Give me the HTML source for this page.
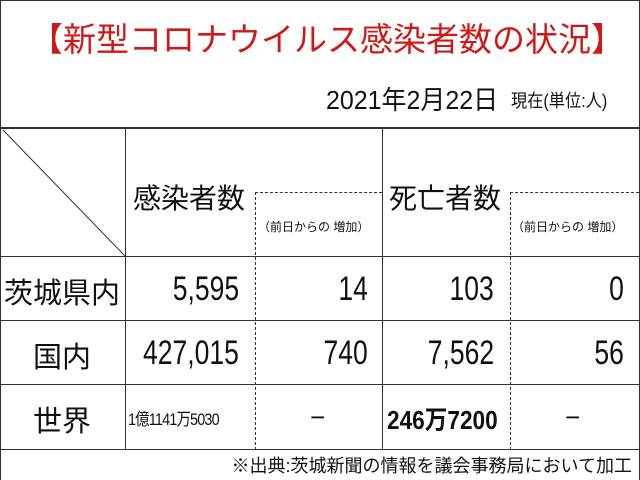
<!DOCTYPE html><html><head><meta charset="utf-8"><style>
body{margin:0;width:640px;height:480px;background:#fff;position:relative;overflow:hidden;font-family:"Liberation Sans","Noto Sans CJK JP",sans-serif;color:#111}
.a{position:absolute;white-space:nowrap}
.h{position:absolute;background:#333}
.dv{position:absolute;border-left:1px dashed #333;width:0}
.dh{position:absolute;border-top:1px dashed #333;height:0}
.n{font-size:34px;text-align:right;transform:scaleX(0.78);transform-origin:right center}
.l{font-size:29px;text-align:center;width:124px;left:0}
</style></head><body>
<div class="h" style="left:0;top:0;width:1px;height:480px"></div>
<div class="h" style="left:639px;top:0;width:1px;height:480px"></div>
<div class="h" style="left:0;top:0;width:640px;height:1px"></div>
<div class="a" style="left:30px;top:13px;font-size:33px;color:#d01818">【新型コロナウイルス感染者数の状況】</div>
<div class="a" style="left:326px;top:80px;font-size:26px;transform:scaleX(0.96);transform-origin:left center">2021年2月22日</div>
<div class="a" style="left:511px;top:87px;font-size:18px;transform:scaleX(0.9);transform-origin:left center">現在(単位:人)</div>
<div class="h" style="left:0;top:127px;width:640px;height:2px"></div>
<div class="h" style="left:0;top:256px;width:640px;height:1px"></div>
<div class="h" style="left:0;top:320px;width:640px;height:1px"></div>
<div class="h" style="left:0;top:384px;width:640px;height:1px"></div>
<div class="h" style="left:0;top:449px;width:640px;height:1px"></div>
<div class="h" style="left:125px;top:128px;width:1px;height:322px"></div>
<div class="h" style="left:382px;top:128px;width:1px;height:322px"></div>
<div class="dv" style="left:255px;top:192px;height:258px"></div>
<div class="dv" style="left:510px;top:192px;height:258px"></div>
<div class="dh" style="left:255px;top:192px;width:127px"></div>
<div class="dh" style="left:510px;top:192px;width:129px"></div>
<svg class="a" style="left:0;top:128px" width="126" height="129"><line x1="3" y1="2" x2="125" y2="128" stroke="#333" stroke-width="1"/></svg>
<div class="a" style="left:133px;top:177px;font-size:28px">感染者数</div>
<div class="a" style="left:389px;top:177px;font-size:28px">死亡者数</div>
<div class="a" style="left:258px;top:218px;font-size:12px">（前日からの 増加）</div>
<div class="a" style="left:512px;top:218px;font-size:12px">（前日からの 増加）</div>
<div class="a l" style="top:270px">茨城県内</div>
<div class="a l" style="top:334px">国内</div>
<div class="a l" style="top:398px">世界</div>
<div class="a n" style="right:401px;top:270px">5,595</div>
<div class="a n" style="right:272px;top:270px">14</div>
<div class="a n" style="right:146px;top:270px">103</div>
<div class="a n" style="right:16px;top:270px">0</div>
<div class="a n" style="right:401px;top:334px">427,015</div>
<div class="a n" style="right:272px;top:334px">740</div>
<div class="a n" style="right:146px;top:334px">7,562</div>
<div class="a n" style="right:16px;top:334px">56</div>
<div class="a" style="left:128px;top:405px;font-size:17px;letter-spacing:-1px;transform:scaleX(0.85);transform-origin:left center">1億1141万5030</div>
<div class="a" style="left:310px;top:402px;font-size:26px">−</div>
<div class="a" style="left:387px;top:400px;font-size:26px;font-weight:bold;transform:scaleX(0.87);transform-origin:left center">246万7200</div>
<div class="a" style="left:565px;top:402px;font-size:26px">−</div>
<div class="a" style="right:8px;top:452px;font-size:18px">※出典:茨城新聞の情報を議会事務局において加工</div>
</body></html>
